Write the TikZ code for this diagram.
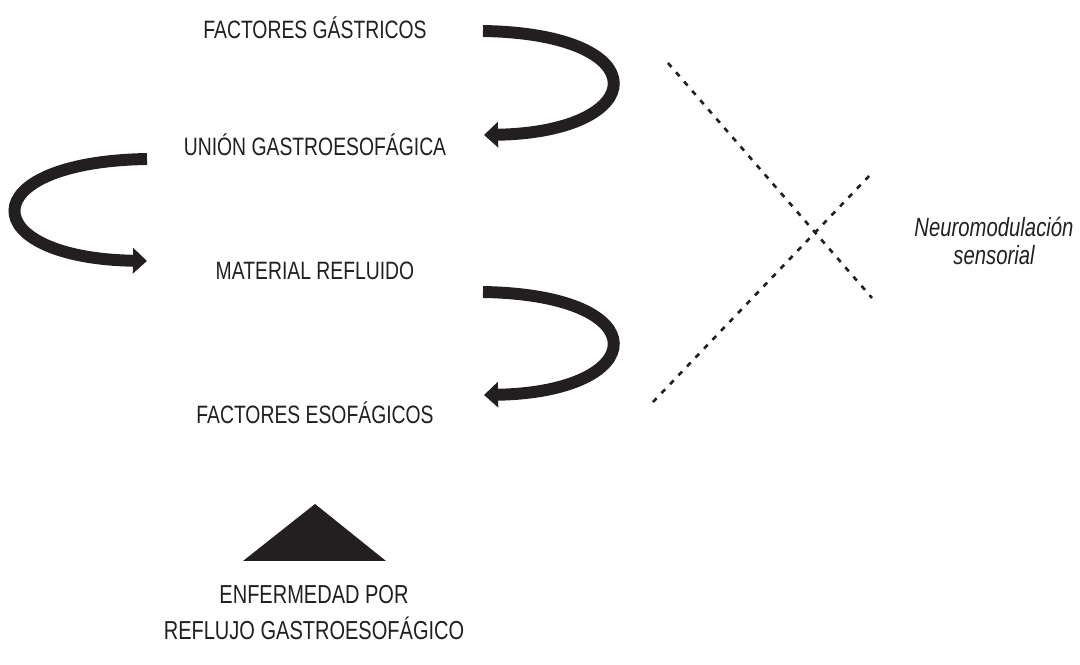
\documentclass[tikz,border=0pt]{standalone}
\usepackage{fontspec}
\setmainfont{Liberation Sans}[FakeStretch=0.77]
\usepackage{tikz}
\usetikzlibrary{arrows.meta}
\definecolor{ink}{HTML}{231F20}
\tikzset{
	lbl/.style={
		anchor=base,
		inner sep=0pt,
		text=ink,
		font=\fontsize{14.3}{17}\selectfont
	},
	bigarr/.style={
		draw=ink,
		line width=6.8pt,
		-{Triangle[width=14.2pt, length=8pt]}
	},
	dotline/.style={
		draw=ink,
		line width=1.5pt,
		dash pattern=on 3pt off 4pt
	}
}

\begin{document}
\begin{tikzpicture}[x=0.02cm, y=-0.02cm]
\useasboundingbox (0,0) rectangle (1080,665);

\node[lbl] (FG) at (315, 39) {FACTORES GÁSTRICOS};
\node[lbl] (UG) at (315, 156) {UNIÓN GASTROESOFÁGICA};
\node[lbl] (MR) at (315, 280) {MATERIAL REFLUIDO};
\node[lbl] (FE) at (315, 424) {FACTORES ESOFÁGICOS};

\node[lbl, font=\fontsize{14.8}{20.8}\selectfont, align=center] (ERGE) at (314, 640)
	{ENFERMEDAD POR\\REFLUJO GASTROESOFÁGICO};
\node[lbl, font=\fontsize{15}{16.5}\selectfont\itshape, align=center] (NM) at (994, 265)
	{Neuromodulación\\sensorial};

\fill[ink] (315, 504) -- (386, 561) -- (243, 561) -- cycle;

\coordinate (a1) at (483, 31);
\coordinate (b1) at (484, 135);
\coordinate (a2) at (147, 159);
\coordinate (b2) at (147, 261);
\coordinate (a3) at (483, 292);
\coordinate (b3) at (484, 395);
\draw[bigarr] (a1) .. controls (660, 34) and (650, 132) .. (b1);
\draw[bigarr] (a2) .. controls (-30, 162) and (-25, 258) .. (b2);
\draw[bigarr] (a3) .. controls (660, 295) and (650, 392) .. (b3);

\coordinate (d1) at (668, 63);
\coordinate (d2) at (872, 298);
\coordinate (d3) at (653, 402);
\coordinate (d4) at (871, 174);
\draw[dotline] (d1) -- (d2);
\draw[dotline] (d3) -- (d4);
\end{tikzpicture}
\end{document}
